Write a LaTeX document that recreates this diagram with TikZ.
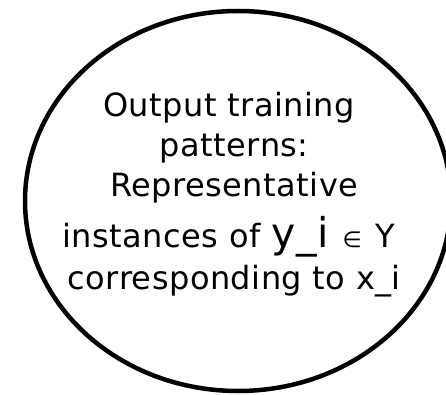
\documentclass[tikz,border=0pt]{standalone}
\usepackage{fontspec}
\setmainfont{DejaVu Sans}[LetterSpace=1.5]
\usepackage{tikz}
\usetikzlibrary{shapes.geometric}
\tikzset{
  patoval/.style ={ellipse, draw=black, line width=4.5pt, inner sep=0pt, minimum width=426pt, minimum height=380pt},
  pattext/.style ={align=center, inner sep=0pt, anchor=north, font=\fontsize{32}{40}\selectfont},
}

\begin{document}
\begin{tikzpicture}[x=1pt,y=1pt]
% --- frame ---
\useasboundingbox (0,0) rectangle (446,394);
\clip (0,0) rectangle (446,394);
% --- oval and its text ---
\node[patoval] (outpat) at (238,193) {};
\node[pattext] (outtxt) at (229,302) {Output training\\ \ patterns:\\ \ Representative\\[11pt]
  instances of {\fontsize{41}{40}\selectfont y\_i}\hspace{14pt}{\fontsize{22}{22}\selectfont ∈}\hspace{14pt}Y\\[2pt]
  \ corresponding to x\_i};
\end{tikzpicture}
\end{document}
